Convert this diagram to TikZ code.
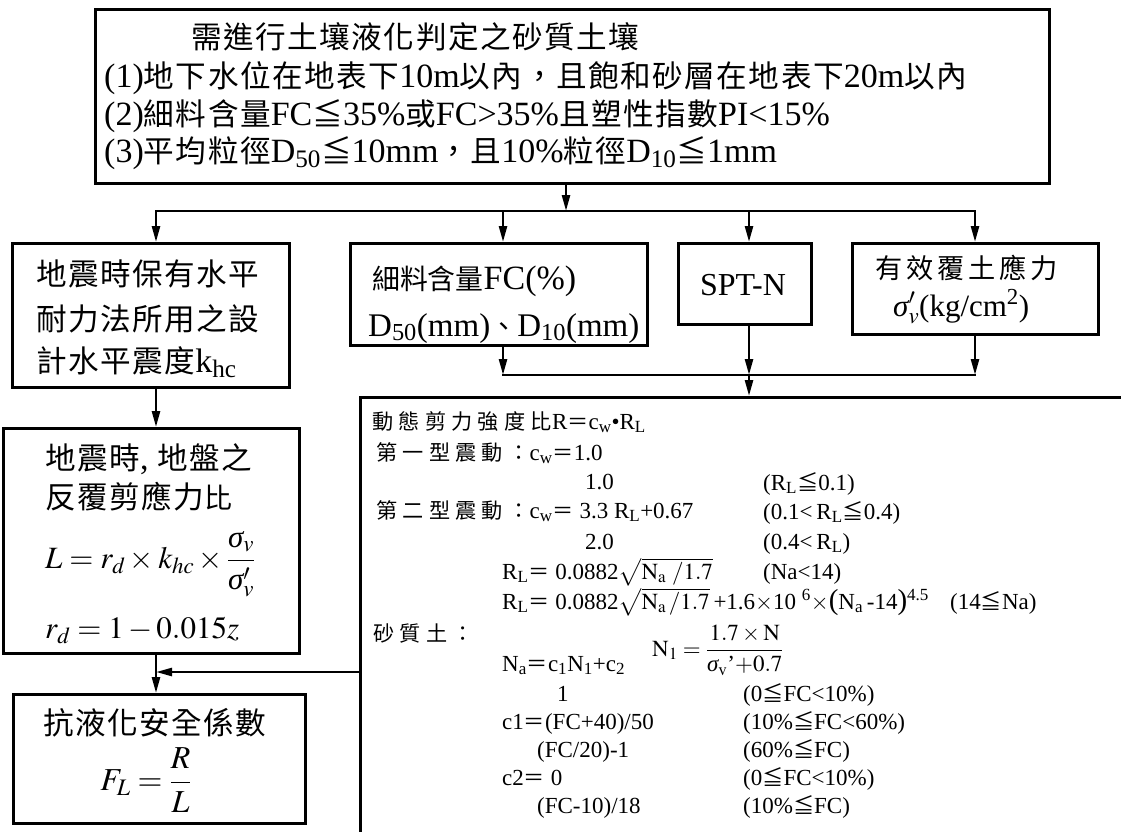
\documentclass[tikz,border=0pt]{standalone}
\usepackage{mathptmx}
\usepackage{fontspec}
\setmainfont{Liberation Serif}
\newfontfamily\cjkL[Scale=0.9,LetterSpace=5]{Noto Sans CJK TC}
\newfontfamily\cjkF[Scale=0.82]{Noto Sans CJK TC}
\newfontfamily\cjkR[Scale=0.8,LetterSpace=14]{Noto Sans CJK TC}
\newfontfamily\cjkS[Scale=0.92,LetterSpace=25]{Noto Sans CJK TC}
\newcommand\zl[1]{{\cjkL #1}}
\newcommand\zf[1]{{\cjkF #1}}
\newcommand\zr[1]{{\cjkR #1}}
\newcommand\zs[1]{{\cjkS #1}}
\newcommand\sig{\mbox{\itshape σ}}
\newcommand\bigpar[1]{{\fontsize{29}{29}\selectfont #1}}
\usetikzlibrary{arrows.meta}
\begin{document}
\begin{tikzpicture}[x=1pt,y=-1pt,
  box/.style={draw, line width=3pt, inner sep=0pt, anchor=north west},
  conn/.style={line width=2.5pt, line cap=rect},
  arr/.style={line width=2.5pt, -{Triangle[length=16pt,width=8pt]}},
  tx/.style={anchor=base west, inner sep=0pt},
  big/.style={font=\fontsize{34}{40}\selectfont},
  sm/.style={font=\fontsize{23}{28}\selectfont}]
\useasboundingbox (0,0) rectangle (1121,832);
\clip (0,0) rectangle (1121,832);
% boxes
\node[box, minimum width=954pt, minimum height=174pt] (top) at (94,8) {};
\node[box, minimum width=277pt, minimum height=144pt] (b1) at (11,242) {};
\node[box, minimum width=297pt, minimum height=102pt] (fc) at (349,242) {};
\node[box, minimum width=133pt, minimum height=81pt] (spt) at (677,242) {};
\node[box, minimum width=246pt, minimum height=91pt] (rb) at (851,242) {};
\node[box, minimum width=296pt, minimum height=225pt] (b2) at (2,427) {};
\node[box, minimum width=292pt, minimum height=129pt] (b3) at (12,693) {};
\node[box, line width=2.5pt, minimum width=900pt, minimum height=600pt] (calc) at (359,396) {};
% coordinates
\coordinate (j0) at (566,211);
\coordinate (j1) at (749,375);
\coordinate (lx) at (156,211);
\coordinate (fx) at (503,211);
\coordinate (sx) at (749,211);
\coordinate (rx) at (975,211);
\coordinate (mj) at (156,672);
% connectors
\draw[arr] (top.south -| j0) -- (j0);
\draw[conn] (lx) -- (rx);
\draw[arr] (lx) -- (b1.north -| lx);
\draw[arr] (fx) -- (fc.north -| fx);
\draw[arr] (sx) -- (spt.north -| sx);
\draw[arr] (rx) -- (rb.north -| rx);
\draw[arr] (fc.south -| fx) -- (j1 -| fx);
\draw[arr] (spt.south -| sx) -- (j1);
\draw[arr] (rb.south -| rx) -- (j1 -| rx);
\draw[conn] (j1 -| fx) -- (j1 -| rx);
\draw[arr] (j1) -- (calc.north -| j1);
\draw[arr] (b1.south -| lx) -- (b2.north -| lx);
\draw[arr] (b2.south -| lx) -- (b3.north -| lx);
\draw[arr] (calc.west |- mj) -- (mj);
% top box text
\node[tx, big] (t0) at (191,49) {\zl{需進行土壤液化判定之砂質土壤}};
\node[tx, big] (t1) at (104,88) {(1)\zl{地下水位在地表下}10m\zl{以內，且飽和砂層在地表下}20m\zl{以內}};
\node[tx, big] (t2) at (104,125) {(2)\zl{細料含量}FC\zl{≦}35\%\zl{或}FC>35\%\zl{且塑性指數}PI<15\%};
\node[tx, big] (t3) at (104,162) {(3)\zl{平均粒徑}D\textsubscript{50}\zl{≦}10mm\zl{，且}10\%\zl{粒徑}D\textsubscript{10}\zl{≦}1mm};
% box 1
\node[tx, big] (a1) at (36,285) {\zl{地震時保有水平}};
\node[tx, big] (a2) at (36,330) {\zl{耐力法所用之設}};
\node[tx, big] (a3) at (36,372) {\zl{計水平震度}k\textsubscript{hc}};
% FC box
\node[tx, big] (f1) at (372,289) {\zf{細料含量}FC(\%)};
\node[tx, font=\fontsize{33}{40}\selectfont] (f2) at (368,336) {D\textsubscript{50}(mm)\zf{、}D\textsubscript{10}(mm)};
% SPT
\node[font=\fontsize{32}{38}\selectfont, inner sep=0pt] (s1) at (743,285) {SPT-N};
% right box
\node[tx, big] (r1) at (875,278) {\zr{有效覆土應力}};
\node[tx, font=\fontsize{31}{36}\selectfont] (r2) at (893,316) {$\sig'_v$(kg/cm\textsuperscript{2})};
% box 2
\node[tx, big] (c1) at (45,469) {\zl{地震時}, \zl{地盤之}};
\node[tx, big] (c2) at (45,508) {\zl{反覆剪應力}{\cjkF 比}};
\node[tx, font=\fontsize{31}{37}\selectfont] (c3) at (45,568) {$L = r_d \times k_{hc}\times\displaystyle\frac{\sig_v}{\sig'_v}$};
\node[tx, font=\fontsize{31}{37}\selectfont] (c4) at (45,638) {$r_d = 1 - 0.015z$};
% box 3
\node[tx, big] (d1) at (43,734) {\zl{抗液化安全係數}};
\node[font=\fontsize{32}{38}\selectfont, inner sep=0pt] (d2) at (146,780) {$F_L = \displaystyle\frac{R}{L}$};
% calc box text
\node[tx, sm] (e1) at (372,429) {\zs{動態剪力強度比}R\zs{＝}c\textsubscript{w}•R\textsubscript{L}};
\node[tx, sm] (e2) at (376,460) {\zs{第一型震動：}c\textsubscript{w}\zs{＝}1.0};
\node[tx, sm] (e3) at (585,489) {1.0};
\node[tx, sm] (e4) at (376,518) {\zs{第二型震動：}c\textsubscript{w}\zs{＝} 3.3 R\textsubscript{L}+0.67};
\node[tx, sm] (e5) at (585,549) {2.0};
\node[tx, sm] (k3) at (763,490) {(R\textsubscript{L}\zs{≦}0.1)};
\node[tx, sm] (k4) at (763,519) {(0.1<\,R\textsubscript{L}\zs{≦}0.4)};
\node[tx, sm] (k5) at (763,549) {(0.4<\,R\textsubscript{L})};
\node[tx, sm] (e6) at (502,579) {R\textsubscript{L}\zs{＝} 0.0882$\sqrt{\mathrm{N}_{\mathrm{a}}\ /1.7}$};
\node[tx, sm] (k6) at (763,579) {(Na<14)};
\node[tx, sm] (e7) at (502,609) {R\textsubscript{L}\zs{＝} 0.0882$\sqrt{\mathrm{N}_{\mathrm{a}}\,/1.7}$\,+1.6$\times$10\ \textsuperscript{6}$\times$\bigpar{(}N\textsubscript{a}\,-14\bigpar{)}\textsuperscript{4.5}};
\node[tx, sm] (k7) at (950,609) {(14\zs{≦}Na)};
\node[tx, sm] (e8) at (373,641) {\zs{砂質土：}};
\node[tx, sm] (e9) at (502,671) {N\textsubscript{a}\zs{＝}c\textsubscript{1}N\textsubscript{1}+c\textsubscript{2}};
\node[tx, sm] (e9b) at (652,656) {$\mathrm{N}_1 = \displaystyle\frac{1.7\times\mathrm{N}}{\sig_{\mathrm{v}}\mbox{'}\mathrm{+0.7}}$};
\node[tx, sm] (e10) at (557,701) {1};
\node[tx, sm] (k10) at (743,701) {(0\zs{≦}FC<10\%)};
\node[tx, sm] (e11) at (502,729) {c1\zs{＝}(FC+40)/50};
\node[tx, sm] (k11) at (743,729) {(10\%\zs{≦}FC<60\%)};
\node[tx, sm] (e12) at (537,757) {(FC/20)-1};
\node[tx, sm] (k12) at (743,757) {(60\%\zs{≦}FC)};
\node[tx, sm] (e13) at (502,785) {c2\zs{＝} 0};
\node[tx, sm] (k13) at (743,785) {(0\zs{≦}FC<10\%)};
\node[tx, sm] (e14) at (537,813) {(FC-10)/18};
\node[tx, sm] (k14) at (743,813) {(10\%\zs{≦}FC)};
\end{tikzpicture}
\end{document}
